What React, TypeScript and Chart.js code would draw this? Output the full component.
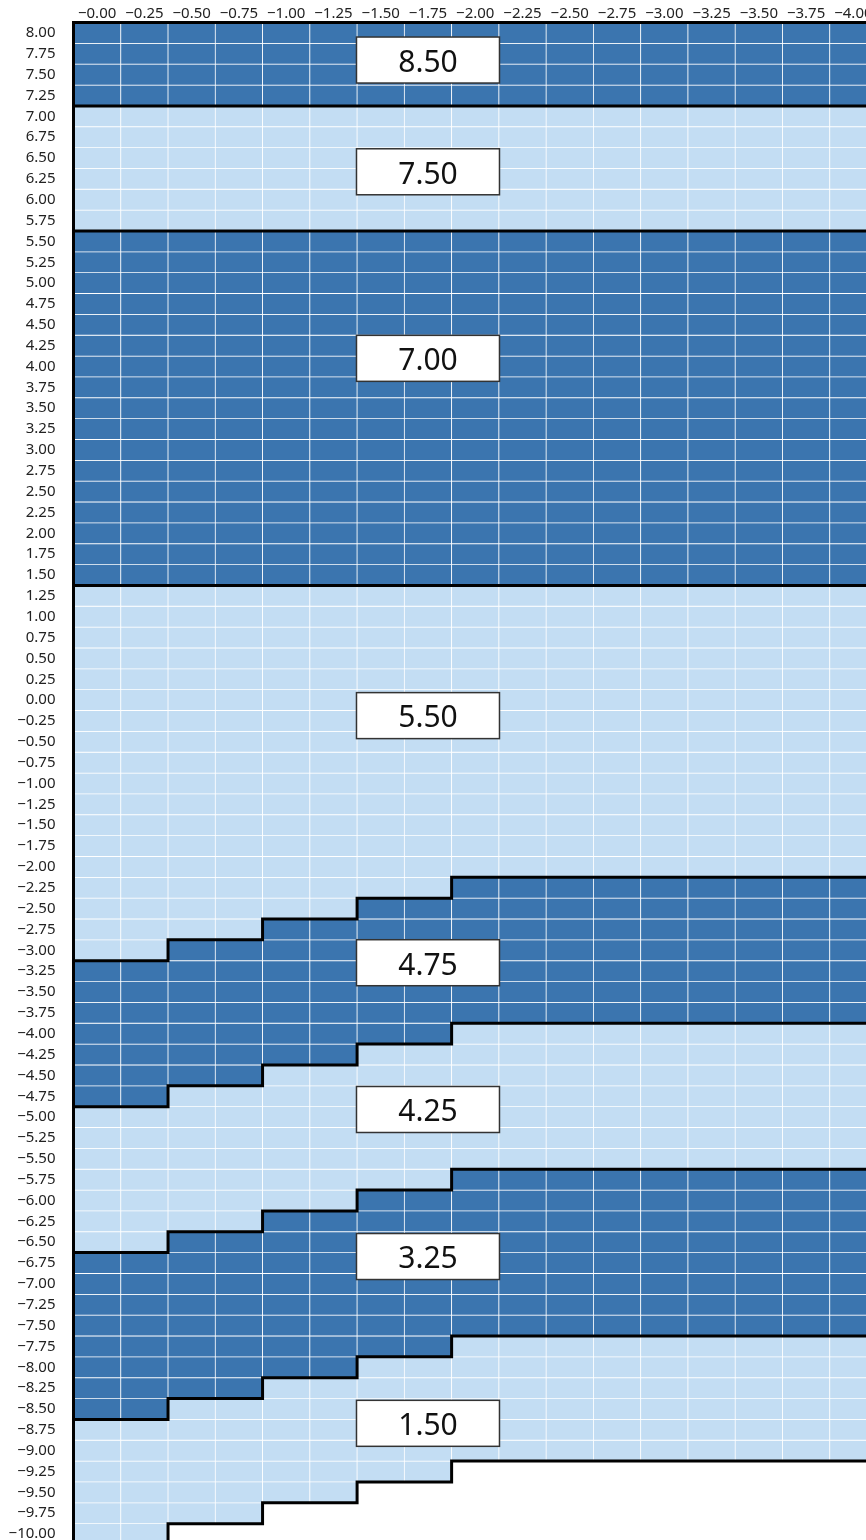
import React, { useEffect, useRef } from "react";
import { Chart, registerables } from "chart.js";

Chart.register(...registerables);

// ---- tick labels / categories ----
const xTickLabels = [
  "−0.00", "−0.25", "−0.50", "−0.75", "−1.00", "−1.25", "−1.50", "−1.75", "−2.00",
  "−2.25", "−2.50", "−2.75", "−3.00", "−3.25", "−3.50", "−3.75", "−4.00",
];

const yValues = [
  8.0, 7.75, 7.5, 7.25, 7.0, 6.75, 6.5, 6.25, 6.0, 5.75, 5.5, 5.25, 5.0, 4.75, 4.5, 4.25,
  4.0, 3.75, 3.5, 3.25, 3.0, 2.75, 2.5, 2.25, 2.0, 1.75, 1.5, 1.25, 1.0, 0.75, 0.5, 0.25,
  0.0, -0.25, -0.5, -0.75, -1.0, -1.25, -1.5, -1.75, -2.0, -2.25, -2.5, -2.75, -3.0, -3.25,
  -3.5, -3.75, -4.0, -4.25, -4.5, -4.75, -5.0, -5.25, -5.5, -5.75, -6.0, -6.25, -6.5, -6.75,
  -7.0, -7.25, -7.5, -7.75, -8.0, -8.25, -8.5, -8.75, -9.0, -9.25, -9.5, -9.75, -10.0,
];
const yStep = 0.25;

// ---- band edges per column (values at cell edges) ----
const edgeTop = [8.125, 8.125, 8.125, 8.125, 8.125, 8.125, 8.125, 8.125, 8.125, 8.125, 8.125, 8.125, 8.125, 8.125, 8.125, 8.125, 8.125];
const edge850_750 = [7.125, 7.125, 7.125, 7.125, 7.125, 7.125, 7.125, 7.125, 7.125, 7.125, 7.125, 7.125, 7.125, 7.125, 7.125, 7.125, 7.125];
const edge750_700 = [5.625, 5.625, 5.625, 5.625, 5.625, 5.625, 5.625, 5.625, 5.625, 5.625, 5.625, 5.625, 5.625, 5.625, 5.625, 5.625, 5.625];
const edge700_550 = [1.375, 1.375, 1.375, 1.375, 1.375, 1.375, 1.375, 1.375, 1.375, 1.375, 1.375, 1.375, 1.375, 1.375, 1.375, 1.375, 1.375];
const edge550_475 = [-3.125, -3.125, -2.875, -2.875, -2.625, -2.625, -2.375, -2.375, -2.125, -2.125, -2.125, -2.125, -2.125, -2.125, -2.125, -2.125, -2.125];
const edge475_425 = [-4.875, -4.875, -4.625, -4.625, -4.375, -4.375, -4.125, -4.125, -3.875, -3.875, -3.875, -3.875, -3.875, -3.875, -3.875, -3.875, -3.875];
const edge425_325 = [-6.625, -6.625, -6.375, -6.375, -6.125, -6.125, -5.875, -5.875, -5.625, -5.625, -5.625, -5.625, -5.625, -5.625, -5.625, -5.625, -5.625];
const edge325_150 = [-8.625, -8.625, -8.375, -8.375, -8.125, -8.125, -7.875, -7.875, -7.625, -7.625, -7.625, -7.625, -7.625, -7.625, -7.625, -7.625, -7.625];
const edgeBottom = [-10.125, -10.125, -9.875, -9.875, -9.625, -9.625, -9.375, -9.375, -9.125, -9.125, -9.125, -9.125, -9.125, -9.125, -9.125, -9.125, -9.125];

// ---- level labels ----
const levelLabels = ["8.50", "7.50", "7.00", "5.50", "4.75", "4.25", "3.25", "1.50"];
const levelLabelX = ["−1.75", "−1.75", "−1.75", "−1.75", "−1.75", "−1.75", "−1.75", "−1.75"];
const levelLabelY = [7.675, 6.335, 4.098, -0.186, -3.149, -4.909, -6.672, -8.672];

const DARK = "#3b75af";
const LIGHT = "#c3ddf3";
const bandColors = [DARK, LIGHT, DARK, LIGHT, DARK, LIGHT, DARK, LIGHT];

const edges = [edgeTop, edge850_750, edge750_700, edge700_550, edge550_475, edge475_425, edge425_325, edge325_150, edgeBottom];
const boundaryLines = [edge850_750, edge750_700, edge700_550, edge550_475, edge475_425, edge425_325, edge325_150, edgeBottom];

const FONT = "'Noto Sans', 'DejaVu Sans', sans-serif";

function fmt(v: number): string {
  return (v < 0 ? "−" : "") + Math.abs(v).toFixed(2);
}

function bandOf(col: number, y: number): number {
  for (let k = 0; k < edges.length - 1; k++) {
    if (y < edges[k][col] && y > edges[k + 1][col]) return k;
  }
  return -1;
}

const labelPlugin = {
  id: "levelLabels",
  afterDraw(chart: any) {
    const { ctx } = chart;
    const xs = chart.scales.x;
    const ys = chart.scales.y;
    ctx.save();
    levelLabels.forEach((t, i) => {
      const cx = xs.getPixelForValue(xTickLabels.indexOf(levelLabelX[i]));
      const cy = ys.getPixelForValue(levelLabelY[i]);
      const w = 143;
      const h = 46;
      ctx.fillStyle = "#ffffff";
      ctx.fillRect(cx - w / 2, cy - h / 2, w, h);
      ctx.strokeStyle = "#333333";
      ctx.lineWidth = 1.5;
      ctx.strokeRect(cx - w / 2, cy - h / 2, w, h);
      ctx.fillStyle = "#111111";
      ctx.font = `30px ${FONT}`;
      ctx.textAlign = "center";
      ctx.textBaseline = "alphabetic";
      ctx.fillText(t, cx, cy + 11.8);
    });
    ctx.restore();
  },
};

function noPad(s: any) {
  s.paddingTop = 0;
  s.paddingBottom = 0;
  s.paddingLeft = 0;
  s.paddingRight = 0;
}

export default function App() {
  const ref = useRef<HTMLCanvasElement | null>(null);

  useEffect(() => {
    if (!ref.current) return;

    const cellDatasets = yValues.map((yv) => {
      const bands = xTickLabels.map((_, i) => bandOf(i, yv));
      return {
        type: "bar" as const,
        label: fmt(yv),
        data: bands.map((b) => (b < 0 ? null : [yv - yStep / 2, yv + yStep / 2])),
        backgroundColor: bands.map((b) => (b < 0 ? "rgba(0,0,0,0)" : bandColors[b])),
        borderColor: "#ffffff",
        borderWidth: 0.75,
        borderSkipped: false,
        grouped: false,
        barPercentage: 1,
        categoryPercentage: 1,
        xAxisID: "x",
        yAxisID: "y",
        order: 2,
      };
    });

    const lineDatasets = boundaryLines.map((arr, k) => ({
      type: "line" as const,
      label: "boundary" + k,
      data: arr.flatMap((v, i) => [
        { x: i - 0.5, y: v },
        { x: i + 0.5, y: v },
      ]),
      borderColor: "#000000",
      borderWidth: 3,
      pointRadius: 0,
      fill: false,
      tension: 0,
      borderJoinStyle: "miter" as const,
      borderCapStyle: "square" as const,
      xAxisID: "x2",
      yAxisID: "y",
      order: 0,
    }));

    const chart = new Chart(ref.current, {
      type: "bar",
      data: {
        labels: xTickLabels,
        datasets: [...cellDatasets, ...lineDatasets] as any,
      },
      options: {
        animation: false,
        responsive: false,
        maintainAspectRatio: false,
        layout: { padding: { top: 0, left: 0, right: 3, bottom: 3.5 } },
        plugins: {
          legend: { display: false },
          tooltip: { enabled: false },
        },
        scales: {
          x: {
            type: "category",
            position: "top",
            offset: true,
            grid: { display: false, drawTicks: false },
            border: { display: true, color: "#000000", width: 3, z: 1 } as any,
            ticks: {
              color: "#222222",
              font: { family: FONT, size: 15 },
              padding: 0,
              maxRotation: 0,
              autoSkip: false,
            },
            afterFit: (s: any) => {
              s.height = 22.5;
              noPad(s);
            },
          },
          x2: {
            type: "linear",
            display: false,
            offset: false,
            min: -0.5,
            max: 16.5,
          },
          y: {
            type: "linear",
            min: -10.125,
            max: 8.125,
            grid: { display: false, drawTicks: false },
            border: { display: true, color: "#000000", width: 3, z: 1 } as any,
            ticks: {
              color: "#222222",
              font: { family: FONT, size: 15 },
              padding: 18,
              autoSkip: false,
              callback: (v: any) => fmt(Number(v)),
            },
            afterBuildTicks: (axis: any) => {
              axis.ticks = yValues.map((v) => ({ value: v }));
            },
            afterFit: (s: any) => {
              s.width = 73.5;
              noPad(s);
            },
          },
        },
      } as any,
      plugins: [labelPlugin],
    });

    return () => chart.destroy();
  }, []);

  return (
    <div
      style={{
        position: "absolute",
        left: 0,
        top: 0,
        width: 866,
        height: 1540,
        overflow: "hidden",
        background: "#ffffff",
      }}
    >
      <canvas ref={ref} width={880} height={1548} style={{ display: "block", width: 880, height: 1548 }} />
    </div>
  );
}
